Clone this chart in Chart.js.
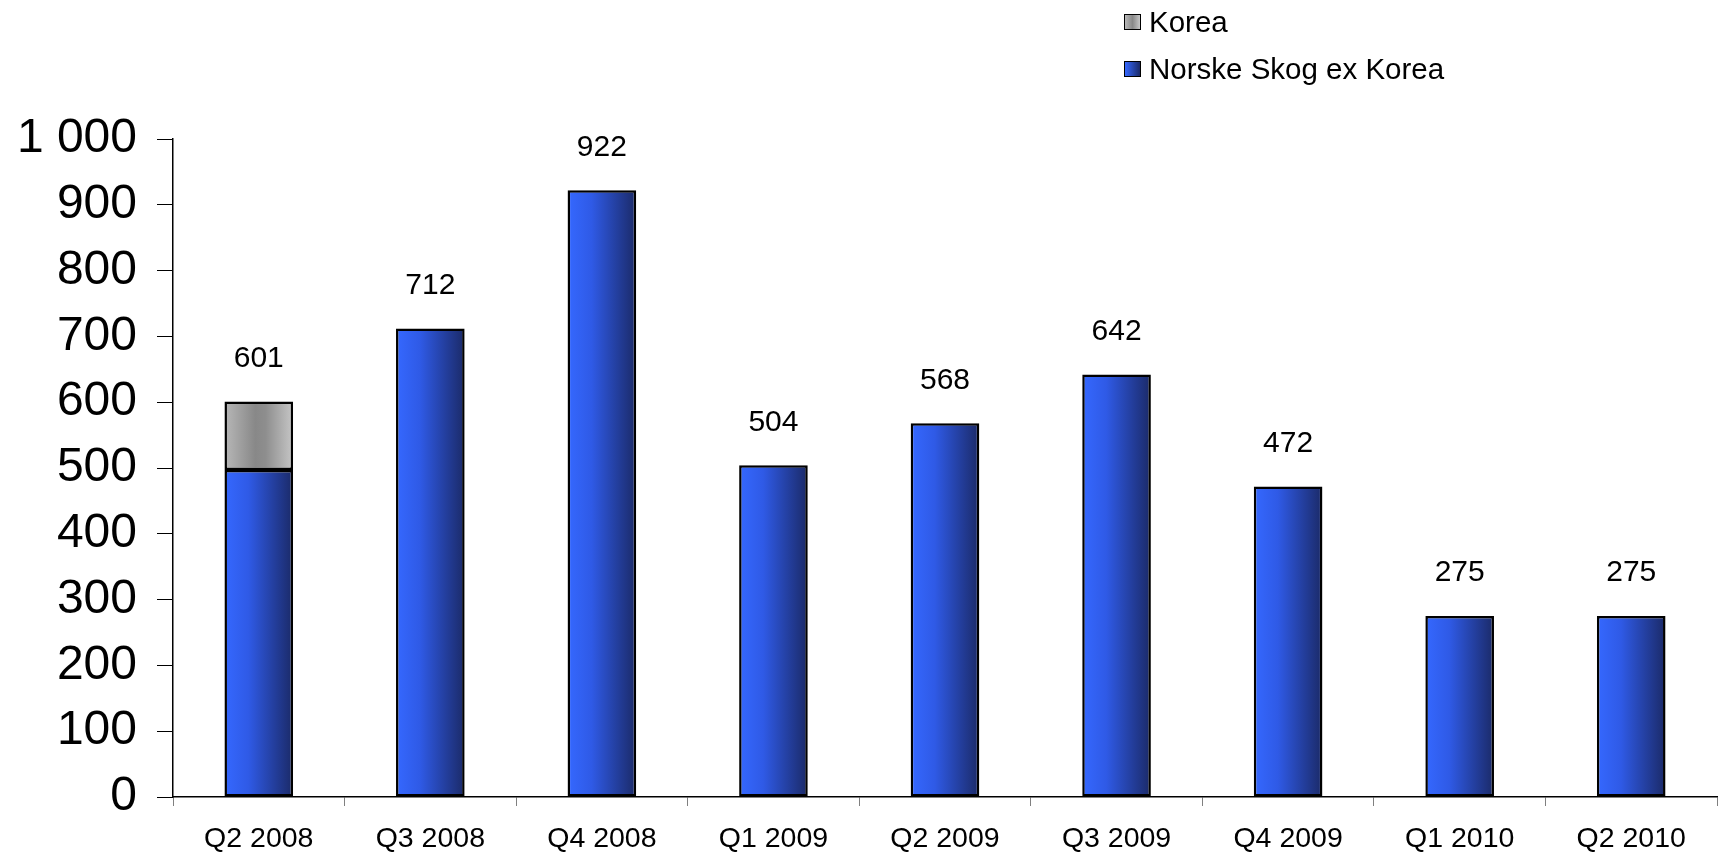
<!DOCTYPE html>
<html lang="en">
<head>
  <meta charset="UTF-8">
  <title>Norske Skog</title>
  <style>
    html, body { margin: 0; padding: 0; background: #fff; overflow: hidden; }
    #wrap { position: relative; width: 1722px; height: 853px; }
    #legend {
      position: absolute; left: 1124px; top: -2px;
      font-family: "Liberation Sans", Arial, sans-serif; font-size: 29.5px; color: #000;
    }
    .row { display: flex; align-items: center; height: 47px; }
    .box { width: 15px; height: 14px; border: 1.5px solid #000; margin-right: 8px; }
  </style>
</head>
<body>
  <div id="wrap">
    <canvas id="grafica"></canvas>
    <div id="legend"></div>
  </div>
  <script src="https://cdn.jsdelivr.net/npm/chart.js"></script>
  <script>
    // Datos
    const categories = ["Q2 2008", "Q3 2008", "Q4 2008", "Q1 2009", "Q2 2009", "Q3 2009", "Q4 2009", "Q1 2010", "Q2 2010"];
    const exKorea = [497, 712, 922, 504, 568, 642, 472, 275, 275];
    const korea = [104, null, null, null, null, null, null, null, null];
    const totals = [601, 712, 922, 504, 568, 642, 472, 275, 275];
    const yTicks = [0, 100, 200, 300, 400, 500, 600, 700, 800, 900, 1000];

    const FONT = "'Liberation Sans', Arial, sans-serif";
    const BAR_PCT = 0.4;
    const blueStops = [[0, "#3568ff"], [0.35, "#2f5ae6"], [1, "#1b2a68"]];
    const grayStops = [[0, "#b8b8b8"], [0.45, "#888888"], [0.6, "#8e8e8e"], [1, "#c6c6c6"]];

    // gradiente horizontal por barra, calculado desde la escala x
    function barFill(stops) {
      return function (ctx) {
        const chart = ctx.chart;
        if (!chart.chartArea) return stops[0][1];
        const xs = chart.scales.x;
        const cx = xs.getPixelForValue(ctx.dataIndex);
        const w = (xs.width / categories.length) * BAR_PCT;
        const g = chart.ctx.createLinearGradient(cx - w / 2, 0, cx + w / 2, 0);
        stops.forEach(s => g.addColorStop(s[0], s[1]));
        return g;
      };
    }

    function fmt(v) {
      return String(v).replace(/\B(?=(\d{3})+(?!\d))/g, " ");
    }

    // etiquetas de total encima de cada columna
    const totalLabels = {
      id: "totalLabels",
      afterDatasetsDraw(chart) {
        const c = chart.ctx;
        c.save();
        c.font = "30px " + FONT;
        c.fillStyle = "#000";
        c.textAlign = "center";
        c.textBaseline = "middle";
        totals.forEach((t, i) => {
          let top = Infinity, x = 0;
          chart.data.datasets.forEach((ds, d) => {
            const el = chart.getDatasetMeta(d).data[i];
            if (ds.data[i] != null && el) { top = Math.min(top, el.y); x = el.x; }
          });
          c.fillText(fmt(t), x, top - 43);
        });
        c.restore();
      }
    };

    const datasets = [
      {
        label: "Norske Skog ex Korea",
        data: exKorea,
        backgroundColor: barFill(blueStops),
        borderColor: "#000",
        borderWidth: 2.5,
        borderSkipped: false,
        categoryPercentage: 1,
        barPercentage: BAR_PCT
      },
      {
        label: "Korea",
        data: korea,
        backgroundColor: barFill(grayStops),
        borderColor: "#000",
        borderWidth: 2.5,
        borderSkipped: false,
        categoryPercentage: 1,
        barPercentage: BAR_PCT
      }
    ];

    const ctx = document.getElementById("grafica").getContext("2d");
    const grafica = new Chart(ctx, {
      type: "bar",
      data: { labels: categories, datasets: datasets },
      options: {
        responsive: true,
        maintainAspectRatio: false,
        animation: false,
        layout: { padding: { top: 139, right: 5, left: 0, bottom: 0 } },
        plugins: {
          legend: { display: false },
          tooltip: { enabled: false }
        },
        scales: {
          x: {
            stacked: true,
            afterFit(s) { s.height = 56; },
            grid: { drawOnChartArea: false, tickLength: 9, color: "#808080", offset: true },
            border: { display: true, color: "#000", width: 1.5 },
            ticks: { color: "#000", padding: 19, maxRotation: 0, font: { family: FONT, size: 28.5, lineHeight: 1 } }
          },
          y: {
            stacked: true,
            min: 0,
            max: 1000,
            afterFit(s) { s.width = 173; },
            afterBuildTicks(s) { s.ticks = yTicks.map(v => ({ value: v })); },
            grid: { drawOnChartArea: false, tickLength: 16, color: "#000" },
            border: { display: true, color: "#000", width: 1.5 },
            ticks: { color: "#000", padding: 20, callback: v => fmt(v), font: { family: FONT, size: 48 } }
          }
        }
      },
      plugins: [totalLabels]
    });

    // leyenda en HTML, en el orden de la original (Korea arriba)
    const legend = document.getElementById("legend");
    const legendCss = {
      "Korea": "linear-gradient(to right, #b8b8b8, #888 50%, #c6c6c6)",
      "Norske Skog ex Korea": "linear-gradient(to right, #3568ff, #1b2a68)"
    };
    datasets.slice().reverse().forEach(ds => {
      const row = document.createElement("div");
      row.className = "row";
      const box = document.createElement("span");
      box.className = "box";
      box.style.background = legendCss[ds.label];
      const txt = document.createElement("span");
      txt.textContent = ds.label;
      row.appendChild(box);
      row.appendChild(txt);
      legend.appendChild(row);
    });
  </script>
</body>
</html>
